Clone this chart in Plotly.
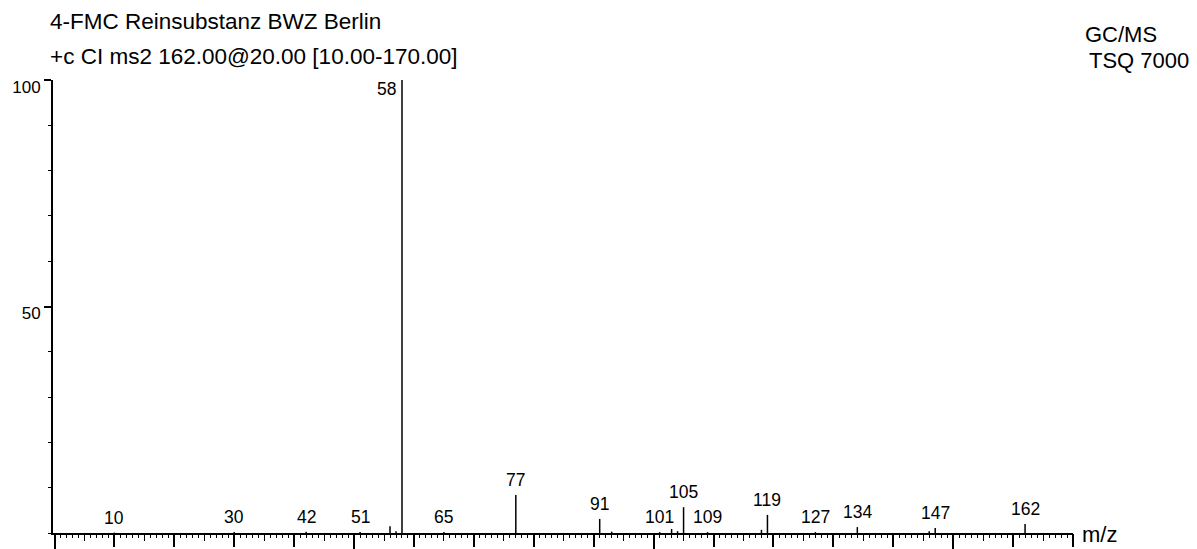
import plotly.graph_objects as go

# ---- data ----
mz = [10, 30, 42, 51, 56, 57, 58, 65, 77, 91, 93, 101, 103, 104, 105, 109,
      118, 119, 127, 134, 146, 147, 162]
intensity = [0.1, 0.2, 0.3, 0.2, 1.5, 0.4, 100, 0.2, 8.4, 3.1, 0.3, 0.2, 0.9,
             0.4, 5.7, 0.2, 0.7, 4.0, 0.2, 1.3, 0.4, 1.1, 2.0]
labeled = [10, 30, 42, 51, 65, 77, 91, 101, 105, 109, 119, 127, 134, 147, 162]
base_peak = 58
y_tick_vals = [50, 100]
y_tick_text = ["50", "100"]

title_line1 = "4-FMC Reinsubstanz BWZ Berlin"
title_line2 = "+c CI ms2 162.00@20.00 [10.00-170.00]"
instrument1 = "GC/MS"
instrument2 = "TSQ 7000"
x_title = "m/z"

FONT = "Arial, Liberation Sans, sans-serif"

xs, ys = [], []
for m, v in zip(mz, intensity):
    xs += [m, m, None]
    ys += [0, v, None]

fig = go.Figure()
fig.add_trace(go.Scatter(x=xs, y=ys, mode="lines",
                         line=dict(color="black", width=1.5),
                         hoverinfo="skip", showlegend=False))
# invisible trace to anchor the overlay tick axis
fig.add_trace(go.Scatter(x=[0], y=[0], xaxis="x2", mode="markers",
                         marker=dict(opacity=0), hoverinfo="skip",
                         showlegend=False))

lookup = dict(zip(mz, intensity))
lab_font = dict(family=FONT, size=17.5, color="black")
annotations = []
for m in labeled:
    annotations.append(dict(x=m, y=lookup[m], xref="x", yref="y", text=str(m),
                            showarrow=False, yanchor="middle", yshift=15,
                            font=lab_font))
annotations.append(dict(x=base_peak, y=lookup[base_peak], xref="x", yref="y",
                        text=str(base_peak), showarrow=False, xanchor="right",
                        yanchor="middle", xshift=-4, yshift=-9,
                        font=lab_font))

hdr = dict(family=FONT, size=22.5, color="black")
inst = dict(family=FONT, size=22, color="black")
annotations += [
    dict(x=-0.0049, y=1.129, xref="paper", yref="paper", text=title_line1,
         showarrow=False, xanchor="left", yanchor="middle", font=hdr),
    dict(x=-0.0049, y=1.051, xref="paper", yref="paper", text=title_line2,
         showarrow=False, xanchor="left", yanchor="middle", font=hdr),
    dict(x=1.0098, y=1.1015, xref="paper", yref="paper", text=instrument1,
         showarrow=False, xanchor="left", yanchor="middle", font=inst),
    dict(x=1.0137, y=1.042, xref="paper", yref="paper", text=instrument2,
         showarrow=False, xanchor="left", yanchor="middle", font=inst),
    dict(x=1.0069, y=-0.003, xref="paper", yref="paper", text=x_title,
         showarrow=False, xanchor="left", yanchor="middle", font=inst),
]

xrange = [-0.25, 170]
fig.update_layout(
    template="none",
    width=1189, height=541, autosize=False,
    margin=dict(l=45, r=124, t=72, b=16, pad=0),
    paper_bgcolor="white", plot_bgcolor="white",
    font=dict(family=FONT, color="black"),
    showlegend=False,
    xaxis=dict(range=xrange, automargin=False, showline=True, linewidth=2,
               linecolor="black",
               ticks="outside", tickmode="linear", tick0=0, dtick=10,
               ticklen=12, tickwidth=1.5, tickcolor="black",
               showticklabels=False, showgrid=False, zeroline=False,
               minor=dict(ticks="outside", tickmode="linear", tick0=0, dtick=1,
                          ticklen=3, tickwidth=1, tickcolor="black",
                          showgrid=False)),
    xaxis2=dict(range=xrange, automargin=False, overlaying="x", anchor="y",
                side="bottom",
                showline=False, ticks="outside", tickmode="linear", tick0=0,
                dtick=50, ticklen=15, tickwidth=1.5, tickcolor="black",
                showticklabels=False, showgrid=False, zeroline=False,
                minor=dict(ticks="outside", tickmode="linear", tick0=0,
                           dtick=5, ticklen=7, tickwidth=1,
                           tickcolor="black", showgrid=False)),
    yaxis=dict(range=[0, 100], automargin=False, showline=True, linewidth=2,
               linecolor="black",
               ticks="outside", tickmode="array", tickvals=y_tick_vals,
               ticktext=y_tick_text, ticklen=7, tickwidth=1.5,
               tickcolor="black", tickfont=dict(family=FONT, size=17),
               ticklabelshift=7, ticklabelstandoff=0,
               showgrid=False, zeroline=False,
               minor=dict(ticks="outside", tickmode="linear", tick0=0,
                          dtick=10, ticklen=3, tickwidth=1,
                          tickcolor="black", showgrid=False)),
    annotations=annotations,
)

fig.write_html("out.html")
